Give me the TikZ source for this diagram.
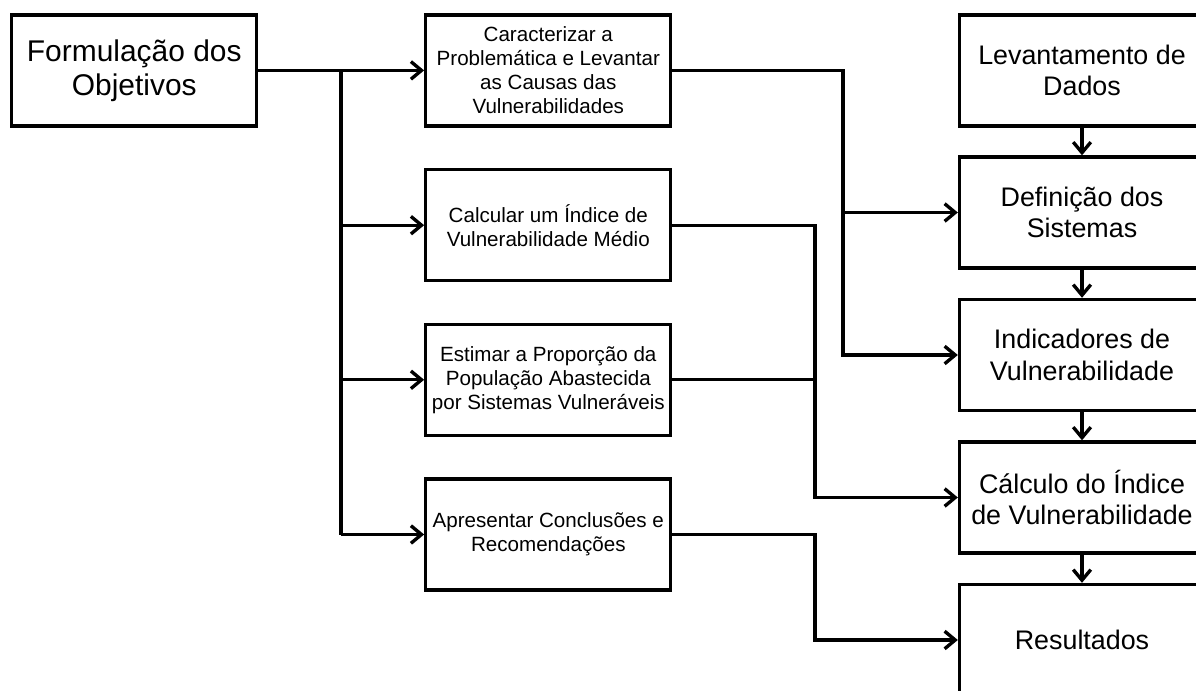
\documentclass[tikz,border=0pt]{standalone}
\usepackage{fontspec}
\setmainfont{Liberation Sans}
\usetikzlibrary{arrows.meta}
\tikzstyle{every picture}=[line width=2.4pt,>={Straight Barb[length=7.5pt,width=12.5pt]}]
\tikzstyle{caixa}=[draw,rectangle,minimum width=6.125cm,minimum height=2.775cm,align=center,inner sep=0pt]
\tikzstyle{grande}=[font=\fontsize{21.3}{24.2}\selectfont]
\tikzstyle{media}=[font=\fontsize{19.1}{22.5}\selectfont]
\tikzstyle{pequena}=[font=\fontsize{14.65}{17.1}\selectfont]

\begin{document}
\begin{tikzpicture}[scale=1]
			% Rahmen
			\useasboundingbox (0,0) rectangle (29.9,17.25);
			\clip (0,0) rectangle (29.9,17.25);
			% Objetivos
			\node[caixa,grande] (form) at (3.356,15.49) {Formulação dos\\Objetivos};
			% Etapas do meio
			\node[caixa,pequena] (car) at (13.7075,15.49) {Caracterizar a\\Problemática e Levantar\\as Causas das\\Vulnerabilidades};
			\node[caixa,pequena] (cal) at (13.7075,11.62) {Calcular um Índice de\\Vulnerabilidade Médio};
			\node[caixa,pequena] (est) at (13.7075,7.755) {Estimar a Proporção da\\População Abastecida\\por Sistemas Vulneráveis};
			\node[caixa,pequena] (apr) at (13.7075,3.8875) {Apresentar Conclusões e\\Recomendações};
			% Metodologia
			\node[caixa,media] (lev) at (27.05,15.49) {Levantamento de\\Dados};
			\node[caixa,media] (def) at (27.05,11.9375) {Definição dos\\Sistemas};
			\node[caixa,media] (ind) at (27.05,8.375) {Indicadores de\\Vulnerabilidade};
			\node[caixa,media] (calc) at (27.05,4.8125) {Cálculo do Índice\\de Vulnerabilidade};
			\node[caixa,media] (res) at (27.05,1.25) {Resultados};
			% Verzweigungen
			\coordinate (tr) at (8.525,0);
			\coordinate (ca) at (21.075,0);
			\coordinate (cb) at (20.375,0);
			% Tronco
			\draw (form.east) -- (form.east -| tr) -- (apr.west -| tr);
			\foreach \n in {car,cal,est,apr}
				\draw[->] (\n.west -| tr) -- (\n.west);
			% Ligacoes para a direita
			\draw[->] (car.east) -| (ca |- ind.west) -- (ind.west);
			\draw[->] (def.west -| ca) -- (def.west);
			\draw[->] (cal.east) -| (cb |- calc.west) -- (calc.west);
			\draw (est.east) -- (est.east -| cb);
			\draw[->] (apr.east) -| (cb |- res.west) -- (res.west);
			% Setas verticais
			\draw[->] (lev) -- (def);
			\draw[->] (def) -- (ind);
			\draw[->] (ind) -- (calc);
			\draw[->] (calc) -- (res);
		\end{tikzpicture}
\end{document}
